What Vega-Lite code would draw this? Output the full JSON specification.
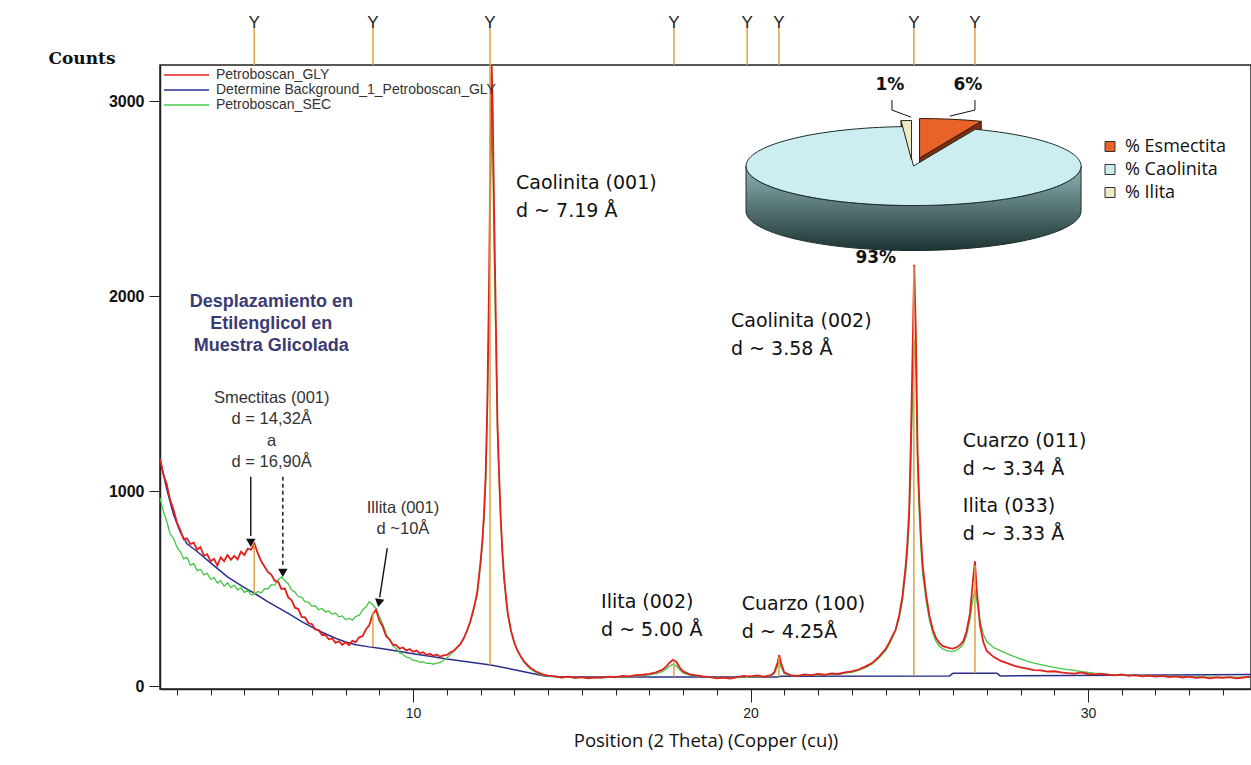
{
  "$schema": "https://vega.github.io/schema/vega-lite/v6.json",
  "width": 1091,
  "height": 624,
  "autosize": {"type": "none"},
  "padding": {"left": 160, "top": 65, "right": 0, "bottom": 76},
  "background": "white",
  "config": {"view": {"stroke": "#222", "strokeWidth": 1.5}},
  "resolve": {"axis": {"x": "independent", "y": "independent"}},
  "datasets": {
    "gly": [
      {"p":2.5,"c":1165},{"p":2.6,"c":1085},{"p":2.7,"c":1035},{"p":2.8,"c":955},{"p":2.9,"c":905},{"p":3.0,"c":840},{"p":3.1,"c":800},{"p":3.2,"c":752},{"p":3.3,"c":758},{"p":3.4,"c":728},{"p":3.5,"c":735},{"p":3.6,"c":700},{"p":3.7,"c":712},{"p":3.8,"c":668},{"p":3.9,"c":676},{"p":4.0,"c":640},{"p":4.1,"c":652},{"p":4.2,"c":618},{"p":4.3,"c":660},{"p":4.4,"c":640},{"p":4.5,"c":672},{"p":4.6,"c":648},{"p":4.7,"c":668},{"p":4.8,"c":650},{"p":4.9,"c":690},{"p":5.0,"c":672},{"p":5.1,"c":705},{"p":5.2,"c":700},{"p":5.3,"c":730},{"p":5.4,"c":680},{"p":5.5,"c":640},{"p":5.6,"c":612},{"p":5.7,"c":585},{"p":5.8,"c":570},{"p":5.9,"c":540},{"p":6.0,"c":535},{"p":6.1,"c":498},{"p":6.2,"c":500},{"p":6.3,"c":455},{"p":6.4,"c":440},{"p":6.5,"c":402},{"p":6.6,"c":395},{"p":6.7,"c":355},{"p":6.8,"c":352},{"p":6.9,"c":322},{"p":7.0,"c":318},{"p":7.1,"c":290},{"p":7.2,"c":288},{"p":7.3,"c":262},{"p":7.4,"c":262},{"p":7.5,"c":240},{"p":7.6,"c":245},{"p":7.7,"c":222},{"p":7.8,"c":230},{"p":7.9,"c":212},{"p":8.0,"c":225},{"p":8.1,"c":210},{"p":8.2,"c":232},{"p":8.3,"c":225},{"p":8.4,"c":250},{"p":8.5,"c":255},{"p":8.6,"c":290},{"p":8.7,"c":312},{"p":8.8,"c":368},{"p":8.9,"c":392},{"p":9.0,"c":335},{"p":9.1,"c":305},{"p":9.2,"c":255},{"p":9.3,"c":240},{"p":9.4,"c":212},{"p":9.5,"c":210},{"p":9.6,"c":192},{"p":9.7,"c":198},{"p":9.8,"c":182},{"p":9.9,"c":190},{"p":10.0,"c":176},{"p":10.1,"c":182},{"p":10.2,"c":168},{"p":10.3,"c":174},{"p":10.4,"c":160},{"p":10.5,"c":166},{"p":10.6,"c":155},{"p":10.7,"c":162},{"p":10.8,"c":150},{"p":10.9,"c":158},{"p":11.0,"c":160},{"p":11.1,"c":172},{"p":11.2,"c":180},{"p":11.3,"c":198},{"p":11.4,"c":215},{"p":11.5,"c":245},{"p":11.6,"c":285},{"p":11.7,"c":335},{"p":11.8,"c":400},{"p":11.9,"c":480},{"p":12.0,"c":640},{"p":12.05,"c":740},{"p":12.1,"c":880},{"p":12.15,"c":1080},{"p":12.2,"c":1450},{"p":12.25,"c":2050},{"p":12.3,"c":2850},{"p":12.33,"c":3180},{"p":12.36,"c":2950},{"p":12.4,"c":2450},{"p":12.45,"c":1900},{"p":12.5,"c":1350},{"p":12.55,"c":1080},{"p":12.6,"c":850},{"p":12.65,"c":680},{"p":12.7,"c":550},{"p":12.8,"c":380},{"p":12.9,"c":285},{"p":13.0,"c":222},{"p":13.1,"c":180},{"p":13.2,"c":150},{"p":13.3,"c":124},{"p":13.4,"c":106},{"p":13.5,"c":90},{"p":13.6,"c":80},{"p":13.7,"c":70},{"p":13.8,"c":63},{"p":13.9,"c":57},{"p":14.0,"c":54},{"p":14.2,"c":50},{"p":14.4,"c":44},{"p":14.6,"c":48},{"p":14.8,"c":42},{"p":15.0,"c":46},{"p":15.2,"c":40},{"p":15.4,"c":45},{"p":15.6,"c":43},{"p":15.8,"c":48},{"p":16.0,"c":46},{"p":16.2,"c":52},{"p":16.4,"c":50},{"p":16.6,"c":56},{"p":16.8,"c":58},{"p":17.0,"c":62},{"p":17.2,"c":70},{"p":17.4,"c":85},{"p":17.5,"c":100},{"p":17.6,"c":120},{"p":17.7,"c":135},{"p":17.8,"c":125},{"p":17.9,"c":95},{"p":18.0,"c":75},{"p":18.2,"c":60},{"p":18.4,"c":55},{"p":18.6,"c":50},{"p":18.8,"c":46},{"p":19.0,"c":40},{"p":19.2,"c":44},{"p":19.4,"c":38},{"p":19.6,"c":46},{"p":19.8,"c":52},{"p":20.0,"c":50},{"p":20.2,"c":55},{"p":20.4,"c":48},{"p":20.6,"c":56},{"p":20.7,"c":70},{"p":20.8,"c":120},{"p":20.85,"c":160},{"p":20.9,"c":120},{"p":21.0,"c":70},{"p":21.2,"c":55},{"p":21.4,"c":52},{"p":21.6,"c":60},{"p":21.8,"c":56},{"p":22.0,"c":62},{"p":22.2,"c":58},{"p":22.4,"c":65},{"p":22.6,"c":62},{"p":22.8,"c":70},{"p":23.0,"c":75},{"p":23.2,"c":85},{"p":23.4,"c":100},{"p":23.6,"c":118},{"p":23.8,"c":150},{"p":24.0,"c":190},{"p":24.1,"c":220},{"p":24.2,"c":255},{"p":24.3,"c":290},{"p":24.4,"c":360},{"p":24.5,"c":460},{"p":24.6,"c":620},{"p":24.65,"c":740},{"p":24.7,"c":900},{"p":24.75,"c":1250},{"p":24.8,"c":1700},{"p":24.85,"c":2160},{"p":24.9,"c":1800},{"p":24.95,"c":1200},{"p":25.0,"c":950},{"p":25.05,"c":760},{"p":25.1,"c":620},{"p":25.2,"c":470},{"p":25.3,"c":360},{"p":25.4,"c":290},{"p":25.5,"c":245},{"p":25.6,"c":220},{"p":25.7,"c":205},{"p":25.8,"c":200},{"p":25.9,"c":195},{"p":26.0,"c":192},{"p":26.1,"c":198},{"p":26.2,"c":210},{"p":26.3,"c":230},{"p":26.4,"c":280},{"p":26.5,"c":370},{"p":26.6,"c":560},{"p":26.65,"c":640},{"p":26.7,"c":500},{"p":26.8,"c":310},{"p":26.9,"c":225},{"p":27.0,"c":180},{"p":27.2,"c":150},{"p":27.4,"c":130},{"p":27.6,"c":118},{"p":27.8,"c":105},{"p":28.0,"c":96},{"p":28.2,"c":90},{"p":28.4,"c":82},{"p":28.6,"c":80},{"p":28.8,"c":74},{"p":29.0,"c":76},{"p":29.2,"c":70},{"p":29.4,"c":66},{"p":29.6,"c":64},{"p":29.8,"c":70},{"p":30.0,"c":62},{"p":30.2,"c":60},{"p":30.4,"c":64},{"p":30.6,"c":58},{"p":30.8,"c":55},{"p":31.0,"c":60},{"p":31.2,"c":52},{"p":31.4,"c":56},{"p":31.6,"c":50},{"p":31.8,"c":54},{"p":32.0,"c":48},{"p":32.2,"c":52},{"p":32.4,"c":46},{"p":32.6,"c":50},{"p":32.8,"c":44},{"p":33.0,"c":48},{"p":33.2,"c":42},{"p":33.4,"c":46},{"p":33.6,"c":40},{"p":33.8,"c":45},{"p":34.0,"c":42},{"p":34.2,"c":46},{"p":34.4,"c":40},{"p":34.6,"c":44},{"p":34.8,"c":48}
    ],
    "sec": [
      {"p":2.5,"c":965},{"p":2.6,"c":895},{"p":2.7,"c":845},{"p":2.8,"c":780},{"p":2.9,"c":758},{"p":3.0,"c":712},{"p":3.1,"c":690},{"p":3.2,"c":652},{"p":3.3,"c":660},{"p":3.4,"c":620},{"p":3.5,"c":628},{"p":3.6,"c":592},{"p":3.7,"c":598},{"p":3.8,"c":570},{"p":3.9,"c":578},{"p":4.0,"c":548},{"p":4.1,"c":556},{"p":4.2,"c":528},{"p":4.3,"c":540},{"p":4.4,"c":512},{"p":4.5,"c":530},{"p":4.6,"c":505},{"p":4.7,"c":518},{"p":4.8,"c":492},{"p":4.9,"c":505},{"p":5.0,"c":480},{"p":5.1,"c":492},{"p":5.2,"c":468},{"p":5.3,"c":472},{"p":5.4,"c":485},{"p":5.5,"c":478},{"p":5.6,"c":500},{"p":5.7,"c":498},{"p":5.8,"c":520},{"p":5.9,"c":518},{"p":6.0,"c":545},{"p":6.1,"c":560},{"p":6.2,"c":540},{"p":6.3,"c":525},{"p":6.4,"c":492},{"p":6.5,"c":482},{"p":6.6,"c":458},{"p":6.7,"c":455},{"p":6.8,"c":432},{"p":6.9,"c":430},{"p":7.0,"c":410},{"p":7.1,"c":412},{"p":7.2,"c":392},{"p":7.3,"c":398},{"p":7.4,"c":380},{"p":7.5,"c":385},{"p":7.6,"c":368},{"p":7.7,"c":375},{"p":7.8,"c":355},{"p":7.9,"c":360},{"p":8.0,"c":340},{"p":8.1,"c":348},{"p":8.2,"c":338},{"p":8.3,"c":358},{"p":8.4,"c":362},{"p":8.5,"c":390},{"p":8.6,"c":405},{"p":8.7,"c":432},{"p":8.8,"c":418},{"p":8.9,"c":398},{"p":9.0,"c":355},{"p":9.1,"c":318},{"p":9.2,"c":268},{"p":9.3,"c":238},{"p":9.4,"c":208},{"p":9.5,"c":192},{"p":9.6,"c":170},{"p":9.7,"c":162},{"p":9.8,"c":148},{"p":9.9,"c":145},{"p":10.0,"c":132},{"p":10.1,"c":130},{"p":10.2,"c":122},{"p":10.3,"c":124},{"p":10.4,"c":116},{"p":10.5,"c":118},{"p":10.6,"c":112},{"p":10.7,"c":118},{"p":10.8,"c":120},{"p":10.9,"c":132},{"p":11.0,"c":145},{"p":11.1,"c":160},{"p":11.2,"c":178},{"p":11.3,"c":195},{"p":11.4,"c":215},{"p":11.5,"c":245},{"p":11.6,"c":282},{"p":11.7,"c":330},{"p":11.8,"c":392},{"p":11.9,"c":470},{"p":12.0,"c":620},{"p":12.05,"c":720},{"p":12.1,"c":850},{"p":12.15,"c":1040},{"p":12.2,"c":1400},{"p":12.25,"c":1950},{"p":12.3,"c":2600},{"p":12.33,"c":2920},{"p":12.36,"c":2720},{"p":12.4,"c":2250},{"p":12.45,"c":1780},{"p":12.5,"c":1300},{"p":12.55,"c":1050},{"p":12.6,"c":830},{"p":12.65,"c":660},{"p":12.7,"c":535},{"p":12.8,"c":370},{"p":12.9,"c":280},{"p":13.0,"c":218},{"p":13.1,"c":178},{"p":13.2,"c":146},{"p":13.3,"c":120},{"p":13.4,"c":100},{"p":13.5,"c":86},{"p":13.6,"c":74},{"p":13.7,"c":65},{"p":13.8,"c":58},{"p":13.9,"c":53},{"p":14.0,"c":50},{"p":14.2,"c":48},{"p":14.4,"c":44},{"p":14.6,"c":46},{"p":14.8,"c":42},{"p":15.0,"c":45},{"p":15.2,"c":41},{"p":15.4,"c":44},{"p":15.6,"c":42},{"p":15.8,"c":46},{"p":16.0,"c":44},{"p":16.2,"c":48},{"p":16.4,"c":47},{"p":16.6,"c":52},{"p":16.8,"c":54},{"p":17.0,"c":58},{"p":17.2,"c":64},{"p":17.4,"c":75},{"p":17.5,"c":88},{"p":17.6,"c":102},{"p":17.7,"c":112},{"p":17.8,"c":104},{"p":17.9,"c":84},{"p":18.0,"c":68},{"p":18.2,"c":56},{"p":18.4,"c":52},{"p":18.6,"c":48},{"p":18.8,"c":45},{"p":19.0,"c":42},{"p":19.2,"c":44},{"p":19.4,"c":41},{"p":19.6,"c":45},{"p":19.8,"c":48},{"p":20.0,"c":47},{"p":20.2,"c":50},{"p":20.4,"c":48},{"p":20.6,"c":52},{"p":20.7,"c":64},{"p":20.8,"c":100},{"p":20.85,"c":125},{"p":20.9,"c":98},{"p":21.0,"c":64},{"p":21.2,"c":54},{"p":21.4,"c":52},{"p":21.6,"c":56},{"p":21.8,"c":55},{"p":22.0,"c":58},{"p":22.2,"c":57},{"p":22.4,"c":61},{"p":22.6,"c":60},{"p":22.8,"c":66},{"p":23.0,"c":70},{"p":23.2,"c":80},{"p":23.4,"c":94},{"p":23.6,"c":112},{"p":23.8,"c":142},{"p":24.0,"c":180},{"p":24.1,"c":210},{"p":24.2,"c":245},{"p":24.3,"c":285},{"p":24.4,"c":345},{"p":24.5,"c":435},{"p":24.6,"c":585},{"p":24.65,"c":690},{"p":24.7,"c":840},{"p":24.75,"c":1120},{"p":24.8,"c":1480},{"p":24.85,"c":1780},{"p":24.9,"c":1620},{"p":24.95,"c":1120},{"p":25.0,"c":880},{"p":25.05,"c":700},{"p":25.1,"c":575},{"p":25.2,"c":440},{"p":25.3,"c":340},{"p":25.4,"c":272},{"p":25.5,"c":228},{"p":25.6,"c":204},{"p":25.7,"c":190},{"p":25.8,"c":183},{"p":25.9,"c":179},{"p":26.0,"c":178},{"p":26.1,"c":184},{"p":26.2,"c":195},{"p":26.3,"c":214},{"p":26.4,"c":258},{"p":26.5,"c":340},{"p":26.6,"c":460},{"p":26.65,"c":492},{"p":26.7,"c":445},{"p":26.8,"c":335},{"p":26.9,"c":265},{"p":27.0,"c":228},{"p":27.2,"c":198},{"p":27.4,"c":182},{"p":27.6,"c":166},{"p":27.8,"c":152},{"p":28.0,"c":140},{"p":28.2,"c":128},{"p":28.4,"c":118},{"p":28.6,"c":110},{"p":28.8,"c":102},{"p":29.0,"c":96},{"p":29.2,"c":90},{"p":29.4,"c":84},{"p":29.6,"c":80},{"p":29.8,"c":74},{"p":30.0,"c":70},{"p":30.2,"c":66},{"p":30.4,"c":64},{"p":30.6,"c":60},{"p":30.8,"c":58},{"p":31.0,"c":56},{"p":31.4,"c":54},{"p":31.8,"c":52},{"p":32.2,"c":50},{"p":32.6,"c":49},{"p":33.0,"c":48},{"p":33.4,"c":47},{"p":33.8,"c":46},{"p":34.2,"c":46},{"p":34.8,"c":45}
    ],
    "bg": [
      {"p":2.5,"c":1165},{"p":2.7,"c":1010},{"p":2.9,"c":880},{"p":3.1,"c":790},{"p":3.3,"c":730},{"p":3.6,"c":690},{"p":4.0,"c":632},{"p":4.5,"c":560},{"p":5.0,"c":505},{"p":5.3,"c":476},{"p":5.7,"c":432},{"p":6.0,"c":402},{"p":6.3,"c":373},{"p":6.7,"c":330},{"p":7.0,"c":302},{"p":7.3,"c":276},{"p":7.7,"c":245},{"p":8.0,"c":226},{"p":8.3,"c":212},{"p":8.7,"c":201},{"p":9.0,"c":194},{"p":9.3,"c":186},{"p":9.6,"c":177},{"p":10.0,"c":166},{"p":10.6,"c":150},{"p":11.0,"c":139},{"p":11.6,"c":125},{"p":12.3,"c":108},{"p":13.0,"c":84},{"p":13.5,"c":66},{"p":13.9,"c":52},{"p":14.5,"c":46},{"p":20.8,"c":46},{"p":20.9,"c":50},{"p":25.9,"c":52},{"p":26.0,"c":66},{"p":27.3,"c":66},{"p":27.4,"c":52},{"p":31.0,"c":55},{"p":34.83,"c":60}
    ],
    "refs": [
      {"p":5.29,"lo":476,"hi":725},{"p":8.81,"lo":200,"hi":380},{"p":12.28,"lo":108,"hi":3185},{"p":17.73,"lo":46,"hi":130},{"p":19.9,"lo":46,"hi":52},{"p":20.84,"lo":48,"hi":150},{"p":24.84,"lo":52,"hi":2150},{"p":26.65,"lo":66,"hi":620}
    ],
    "peaks": [
      {"x":13.05,"y":2580,"label":"Caolinita (001)\nd ~ 7.19 Å"},
      {"x":19.42,"y":1872,"label":"Caolinita (002)\nd ~ 3.58 Å"},
      {"x":26.29,"y":1257,"label":"Cuarzo (011)\nd ~ 3.34 Å"},
      {"x":26.29,"y":924,"label":"Ilita (033)\nd ~ 3.33 Å"},
      {"x":15.57,"y":431,"label":"Ilita (002)\nd ~ 5.00 Å"},
      {"x":19.74,"y":421,"label":"Cuarzo (100)\nd ~ 4.25Å"}
    ],
    "notes": [
      {"x":5.8,"y":1970,"label":"Desplazamiento en\nEtilenglicol en\nMuestra Glicolada"}
    ],
    "small": [
      {"x":5.81,"y":1477,"label":"Smectitas (001)\nd = 14,32Å\na\nd = 16,90Å"},
      {"x":9.7,"y":913,"label":"Illita (001)\nd ~10Å"}
    ],
    "arrows": [
      {"x":5.19,"y":1074,"x2":5.19,"y2":770,"kind":"solid"},
      {"x":6.14,"y":1074,"x2":6.14,"y2":616,"kind":"dashed"},
      {"x":9.235,"y":707,"x2":9.01,"y2":455,"kind":"solid"}
    ],
    "heads": [
      {"x":5.19,"y":734,"angle":0},
      {"x":6.14,"y":580,"angle":0},
      {"x":8.99,"y":426,"angle":10}
    ],
    "pie": [
      {"mineral":"% Esmectita","pct":6},
      {"mineral":"% Caolinita","pct":93},
      {"mineral":"% Ilita","pct":1}
    ],
    "pielabels": [
      {"x":24.13,"y":3082,"label":"1%"},
      {"x":26.44,"y":3082,"label":"6%"},
      {"x":23.71,"y":2195,"label":"93%"}
    ],
    "leaders": [
      {"x":24.19,"y":3005,"x2":24.19,"y2":2954},
      {"x":24.19,"y":2954,"x2":24.75,"y2":2918},
      {"x":26.65,"y":3005,"x2":26.65,"y2":2954},
      {"x":26.65,"y":2954,"x2":25.91,"y2":2923}
    ]
  },
  "layer": [
    {
      "data": {"name": "bg"},
      "mark": {"type": "line", "strokeWidth": 1.5},
      "encoding": {
        "x": {"field": "p", "type": "quantitative", "scale": {"domain": [2.5, 34.83], "nice": false, "zero": false},
          "axis": {"orient": "bottom", "values": [3,4,5,6,7,8,9,10,11,12,13,14,15,16,17,18,19,20,21,22,23,24,25,26,27,28,29,30,31,32,33,34],
            "tickSize": {"condition": {"test": "datum.value % 10 === 0", "value": 13}, "value": 6},
            "labelExpr": "datum.value % 10 === 0 ? datum.label : ''",
            "labelFont": "Liberation Sans", "labelFontSize": 14, "labelColor": "#222", "labelPadding": 4, "labelFlush": false, "labelOverlap": false,
            "tickColor": "#222", "tickWidth": 1, "domainColor": "#222", "domainWidth": 1.5, "grid": false,
            "title": "Position (2 Theta) (Copper (cu))", "titleFont": "Open Sans", "titleFontSize": 18.5, "titleFontWeight": "normal", "titleColor": "#111", "titlePadding": 11}},
        "y": {"field": "c", "type": "quantitative", "scale": {"domain": [-15, 3185], "nice": false, "zero": false},
          "axis": {"orient": "left", "values": [0, 1000, 2000, 3000], "format": "d", "tickSize": 11, "labelPadding": 5,
            "labelFont": "Liberation Sans", "labelFontSize": 16, "labelFontWeight": "bold", "labelColor": "#111",
            "tickColor": "#222", "domainColor": "#222", "domainWidth": 1.5, "grid": false,
            "title": "Counts", "titleAngle": 0, "titleX": -112, "titleY": -2, "titleAlign": "left", "titleBaseline": "alphabetic",
            "titleFont": "DejaVu Serif", "titleFontSize": 17, "titleFontWeight": "bold", "titleColor": "#111"}},
        "stroke": {"datum": "Determine Background_1_Petroboscan_GLY", "type": "nominal",
          "scale": {"domain": ["Petroboscan_GLY", "Determine Background_1_Petroboscan_GLY", "Petroboscan_SEC"], "range": ["#e21f1f", "#2b2f8c", "#45c745"]},
          "legend": {"title": null, "orient": "none", "legendX": 3, "legendY": 3, "symbolType": "stroke", "symbolSize": 2025, "symbolStrokeWidth": 1.5,
            "labelFont": "Liberation Sans", "labelFontSize": 14, "labelColor": "#333", "labelLimit": 600, "clipHeight": 14, "rowPadding": 1, "labelOffset": 6}}
      }
    },
    {
      "data": {"name": "sec"},
      "mark": {"type": "line", "strokeWidth": 1.3},
      "encoding": {
        "x": {"field": "p", "type": "quantitative", "axis": null},
        "y": {"field": "c", "type": "quantitative", "axis": null},
        "stroke": {"datum": "Petroboscan_SEC", "type": "nominal"}
      }
    },
    {
      "data": {"name": "gly"},
      "mark": {"type": "line", "strokeWidth": 1.8},
      "encoding": {
        "x": {"field": "p", "type": "quantitative", "axis": null},
        "y": {"field": "c", "type": "quantitative", "axis": null},
        "stroke": {"datum": "Petroboscan_GLY", "type": "nominal"}
      }
    },
    {
      "data": {"name": "refs"},
      "mark": {"type": "rule", "color": "#d9a441", "strokeWidth": 1.5},
      "encoding": {
        "x": {"field": "p", "type": "quantitative", "axis": null},
        "y": {"field": "lo", "type": "quantitative", "axis": null},
        "y2": {"field": "hi"}
      }
    },
    {
      "data": {"name": "refs"},
      "mark": {"type": "rule", "color": "#d9a441", "strokeWidth": 1.5},
      "encoding": {
        "x": {"field": "p", "type": "quantitative", "axis": null},
        "y": {"datum": 3185, "type": "quantitative", "axis": null},
        "y2": {"datum": 3375}
      }
    },
    {
      "data": {"name": "refs"},
      "mark": {"type": "text", "text": "Y", "font": "Liberation Sans", "fontSize": 17, "color": "#222", "align": "center", "baseline": "alphabetic"},
      "encoding": {
        "x": {"field": "p", "type": "quantitative", "axis": null},
        "y": {"datum": 3375, "type": "quantitative", "axis": null}
      }
    },
    {
      "data": {"name": "arrows"},
      "mark": {"type": "rule", "color": "#111", "strokeWidth": 1.4},
      "encoding": {
        "x": {"field": "x", "type": "quantitative", "axis": null},
        "y": {"field": "y", "type": "quantitative", "axis": null},
        "x2": {"field": "x2"},
        "y2": {"field": "y2"},
        "strokeDash": {"field": "kind", "type": "nominal", "scale": {"domain": ["solid", "dashed"], "range": [[1, 0], [4, 3]]}, "legend": null}
      }
    },
    {
      "data": {"name": "heads"},
      "mark": {"type": "point", "shape": "triangle-down", "filled": true, "color": "#111", "size": 90, "opacity": 1},
      "encoding": {
        "x": {"field": "x", "type": "quantitative", "axis": null},
        "y": {"field": "y", "type": "quantitative", "axis": null},
        "angle": {"field": "angle", "type": "quantitative", "scale": null}
      }
    },
    {
      "data": {"name": "peaks"},
      "mark": {"type": "text", "align": "left", "baseline": "middle", "font": "DejaVu Sans", "fontSize": 19, "lineBreak": "\n", "lineHeight": 28, "color": "#111"},
      "encoding": {
        "x": {"field": "x", "type": "quantitative", "axis": null},
        "y": {"field": "y", "type": "quantitative", "axis": null},
        "text": {"field": "label"}
      }
    },
    {
      "data": {"name": "notes"},
      "mark": {"type": "text", "align": "center", "baseline": "middle", "font": "Liberation Sans", "fontWeight": "bold", "fontSize": 18, "lineBreak": "\n", "lineHeight": 22, "color": "#3b3b74"},
      "encoding": {
        "x": {"field": "x", "type": "quantitative", "axis": null},
        "y": {"field": "y", "type": "quantitative", "axis": null},
        "text": {"field": "label"}
      }
    },
    {
      "data": {"name": "small"},
      "mark": {"type": "text", "align": "center", "baseline": "middle", "font": "Liberation Sans", "fontSize": 16.5, "lineBreak": "\n", "lineHeight": 21.3, "color": "#333"},
      "encoding": {
        "x": {"field": "x", "type": "quantitative", "axis": null},
        "y": {"field": "y", "type": "quantitative", "axis": null},
        "text": {"field": "label"}
      }
    },
    {
      "data": {"name": "pie"},
      "transform": [{"filter": "datum.mineral === '% Caolinita'"}],
      "mark": {"type": "point", "filled": true, "size": 4, "opacity": 1,
        "shape": "M-167.5,0 L-167.5,45 A167.5,39.5 0 0 0 167.5,45 L167.5,0 A167.5,39.5 0 0 1 -167.5,0 Z",
        "fill": {"gradient": "linear", "x1": 0, "y1": 0, "x2": 0, "y2": 1, "stops": [{"offset": 0, "color": "#8fb3b4"}, {"offset": 1, "color": "#1d3434"}]},
        "stroke": "#1b2a2a", "strokeWidth": 1},
      "encoding": {
        "x": {"datum": 24.83, "type": "quantitative", "axis": null},
        "y": {"datum": 2667, "type": "quantitative", "axis": null}
      }
    },
    {
      "data": {"name": "pie"},
      "transform": [{"filter": "datum.mineral === '% Esmectita'"}],
      "mark": {"type": "point", "filled": true, "size": 4, "opacity": 1,
        "shape": "M6,-8 L67.7,-44.7 L67.7,0.3 L6,37 Z",
        "fill": "#7e2c0e", "stroke": "#3a1a0a", "strokeWidth": 1},
      "encoding": {
        "x": {"datum": 24.83, "type": "quantitative", "axis": null},
        "y": {"datum": 2667, "type": "quantitative", "axis": null}
      }
    },
    {
      "data": {"name": "pie"},
      "transform": [{"filter": "datum.mineral === '% Ilita'"}],
      "mark": {"type": "point", "filled": true, "size": 4, "opacity": 1,
        "shape": "M-2,-6 L-12.5,-45.4 L-12.5,-0.4 L-2,39 Z",
        "fill": "#5e5c36", "stroke": "#2a2a1a", "strokeWidth": 1},
      "encoding": {
        "x": {"datum": 24.83, "type": "quantitative", "axis": null},
        "y": {"datum": 2667, "type": "quantitative", "axis": null}
      }
    },
    {
      "data": {"name": "pie"},
      "transform": [{"filter": "datum.mineral === '% Caolinita'"}],
      "mark": {"type": "point", "filled": true, "size": 4, "opacity": 1,
        "shape": "M0,0 L61.7,-36.7 A167.5,39.5 0 1 1 -10.5,-39.4 Z",
        "stroke": "#1e2c2c", "strokeWidth": 1},
      "encoding": {
        "x": {"datum": 24.83, "type": "quantitative", "axis": null},
        "y": {"datum": 2667, "type": "quantitative", "axis": null},
        "color": {"field": "mineral", "type": "nominal",
          "scale": {"domain": ["% Esmectita", "% Caolinita", "% Ilita"], "range": ["#e8622a", "#cdeef0", "#efeac4"]},
          "legend": {"title": null, "orient": "none", "legendX": 941, "legendY": 70, "symbolType": "square", "symbolSize": 100,
            "symbolStrokeColor": "#333", "symbolStrokeWidth": 1, "labelFont": "Open Sans", "labelFontSize": 18, "labelColor": "#111",
            "labelLimit": 300, "clipHeight": 23, "rowPadding": 0, "labelOffset": 6}}
      }
    },
    {
      "data": {"name": "pie"},
      "transform": [{"filter": "datum.mineral === '% Esmectita'"}],
      "mark": {"type": "point", "filled": true, "size": 4, "opacity": 1,
        "shape": "M6,-8 L6,-47.5 A167.5,39.5 0 0 1 67.7,-44.7 Z",
        "stroke": "#3a1a0a", "strokeWidth": 1},
      "encoding": {
        "x": {"datum": 24.83, "type": "quantitative", "axis": null},
        "y": {"datum": 2667, "type": "quantitative", "axis": null},
        "color": {"field": "mineral", "type": "nominal"}
      }
    },
    {
      "data": {"name": "pie"},
      "transform": [{"filter": "datum.mineral === '% Ilita'"}],
      "mark": {"type": "point", "filled": true, "size": 4, "opacity": 1,
        "shape": "M-2,-6 L-12.5,-45.4 A167.5,39.5 0 0 1 -2,-45.5 Z",
        "stroke": "#2a2a1a", "strokeWidth": 1},
      "encoding": {
        "x": {"datum": 24.83, "type": "quantitative", "axis": null},
        "y": {"datum": 2667, "type": "quantitative", "axis": null},
        "color": {"field": "mineral", "type": "nominal"}
      }
    },
    {
      "data": {"name": "pielabels"},
      "mark": {"type": "text", "align": "center", "baseline": "middle", "font": "DejaVu Sans", "fontWeight": "bold", "fontSize": 17, "color": "#111"},
      "encoding": {
        "x": {"field": "x", "type": "quantitative", "axis": null},
        "y": {"field": "y", "type": "quantitative", "axis": null},
        "text": {"field": "label"}
      }
    },
    {
      "data": {"name": "leaders"},
      "mark": {"type": "rule", "color": "#111", "strokeWidth": 1},
      "encoding": {
        "x": {"field": "x", "type": "quantitative", "axis": null},
        "y": {"field": "y", "type": "quantitative", "axis": null},
        "x2": {"field": "x2"},
        "y2": {"field": "y2"}
      }
    }
  ]
}
